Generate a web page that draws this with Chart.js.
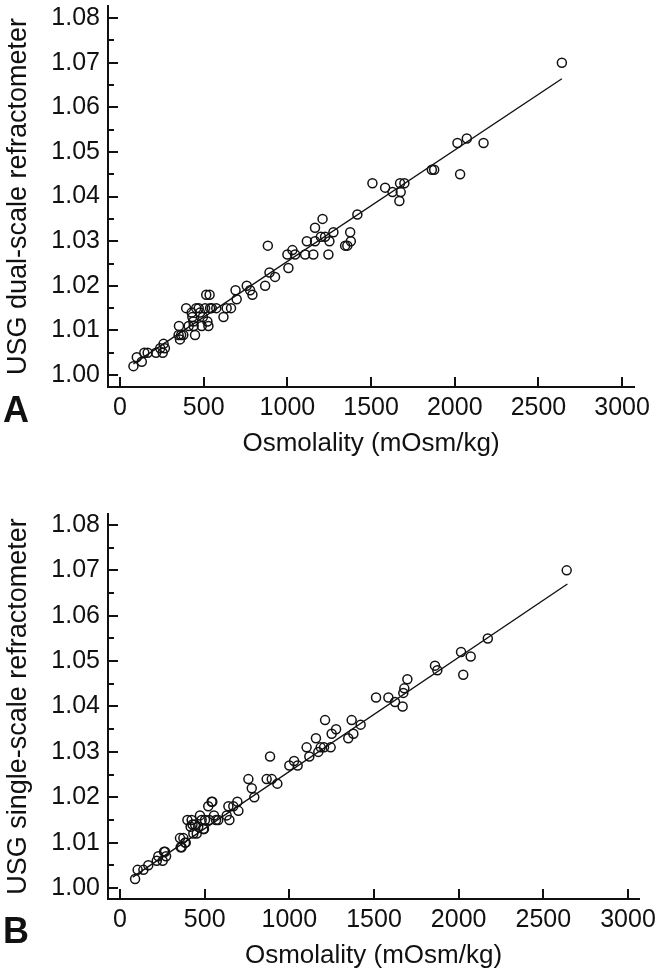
<!DOCTYPE html>
<html>
<head>
<meta charset="utf-8">
<script src="https://cdn.jsdelivr.net/npm/chart.js@4"></script>
<style>
  body { margin: 0; background: #fff; }
  #wrap { position: relative; width: 661px; height: 975px; }
  canvas { display: block; }
  .panel-letter {
    position: absolute; left: 3px;
    font: bold 36px "Liberation Sans", Arial, sans-serif;
    line-height: 36px; color: #111;
  }
</style>
</head>
<body>
<div id="wrap">
  <canvas id="chartA" width="661" height="480"></canvas>
  <canvas id="chartB" width="661" height="495"></canvas>
  <div class="panel-letter" style="top:392px">A</div>
  <div class="panel-letter" style="top:913px">B</div>
</div>
<script>
// Panel A: dual-scale refractometer vs osmolality
const osmA = [80, 100, 130, 145, 165, 215, 240, 255, 260, 268,
  350, 352, 358, 365, 378, 395, 410, 428, 432, 438, 440, 448, 455, 470, 478, 488, 495,
  508, 515, 522, 528, 535, 538, 548, 575, 618, 637, 663, 690, 697, 757, 777, 791,
  867, 883, 893, 926, 1000, 1006, 1030, 1046, 1106, 1116, 1155, 1165, 1165, 1200, 1210,
  1225, 1245, 1251, 1275, 1345, 1358, 1375, 1379, 1418, 1508, 1584, 1628, 1669, 1673,
  1677, 1699, 1863, 1877, 2016, 2032, 2072, 2172, 2640];
const usgA = [1.002, 1.004, 1.003, 1.005, 1.005, 1.005, 1.006, 1.005, 1.007, 1.006,
  1.009, 1.011, 1.008, 1.009, 1.009, 1.015, 1.011, 1.014, 1.013, 1.012, 1.011, 1.009, 1.015, 1.015, 1.014, 1.011, 1.013,
  1.015, 1.018, 1.012, 1.011, 1.018, 1.015, 1.015, 1.015, 1.013, 1.015, 1.015, 1.019, 1.017, 1.020, 1.019, 1.018,
  1.020, 1.029, 1.023, 1.022, 1.027, 1.024, 1.028, 1.027, 1.027, 1.030, 1.027, 1.030, 1.033, 1.031, 1.035,
  1.031, 1.027, 1.030, 1.032, 1.029, 1.029, 1.032, 1.030, 1.036, 1.043, 1.042, 1.041, 1.039, 1.043,
  1.041, 1.043, 1.046, 1.046, 1.052, 1.045, 1.053, 1.052, 1.070];
const fitOsmA = [80, 2640];
const fitUsgA = [1.0025, 1.0664];

// Panel B: single-scale refractometer vs osmolality
const osmB = [89, 104, 138, 167, 217, 226, 252, 260, 266, 272,
  354, 358, 364, 374, 384, 388, 398, 417, 423, 428, 433, 443, 453, 462, 472, 482, 492, 496,
  502, 521, 527, 541, 545, 555, 567, 580, 630, 640, 646, 669, 693, 699, 758, 778, 793,
  866, 886, 896, 929, 1000, 1028, 1049, 1102, 1118, 1157, 1171, 1185, 1205, 1211, 1244,
  1250, 1276, 1348, 1368, 1378, 1421, 1512, 1585, 1624, 1669, 1673, 1679, 1697,
  1860, 1874, 2014, 2027, 2071, 2172, 2638];
const usgB = [1.002, 1.004, 1.004, 1.005, 1.006, 1.007, 1.006, 1.008, 1.008, 1.007,
  1.011, 1.009, 1.009, 1.011, 1.010, 1.010, 1.015, 1.0135, 1.015, 1.014, 1.012, 1.014, 1.012, 1.0135, 1.016, 1.015, 1.013, 1.013,
  1.015, 1.018, 1.015, 1.019, 1.019, 1.016, 1.015, 1.015, 1.016, 1.018, 1.015, 1.018, 1.019, 1.017, 1.024, 1.022, 1.020,
  1.024, 1.029, 1.024, 1.023, 1.027, 1.028, 1.027, 1.031, 1.029, 1.033, 1.030, 1.031, 1.031, 1.037, 1.031,
  1.034, 1.035, 1.033, 1.037, 1.034, 1.036, 1.042, 1.042, 1.041, 1.040, 1.043, 1.044, 1.046,
  1.049, 1.048, 1.052, 1.047, 1.051, 1.055, 1.070];
const fitOsmB = [75, 2642];
const fitUsgB = [1.0024, 1.0670];

const xTicks = [0, 500, 1000, 1500, 2000, 2500, 3000];
const yTicks = [1.00, 1.01, 1.02, 1.03, 1.04, 1.05, 1.06, 1.07, 1.08];
const yMinorTicks = [1.005, 1.015, 1.025, 1.035, 1.045, 1.055, 1.065, 1.075];

const FONT = '"Liberation Sans", Arial, sans-serif';
const INK = '#111';

// inward tick marks (major + minor), drawn off the library's scales
const tickMarks = {
    id: 'tickMarks',
    afterDraw(chart) {
        const { ctx, chartArea, scales: { x, y } } = chart;
        ctx.save();
        ctx.strokeStyle = INK;
        ctx.lineWidth = 2;
        ctx.beginPath();
        yTicks.forEach(v => {
            const py = Math.round(y.getPixelForValue(v));
            ctx.moveTo(chartArea.left, py);
            ctx.lineTo(chartArea.left + 10, py);
        });
        yMinorTicks.forEach(v => {
            const py = Math.round(y.getPixelForValue(v));
            ctx.moveTo(chartArea.left, py);
            ctx.lineTo(chartArea.left + 6, py);
        });
        xTicks.forEach(v => {
            const px = Math.round(x.getPixelForValue(v));
            ctx.moveTo(px, chartArea.bottom);
            ctx.lineTo(px, chartArea.bottom - 10);
        });
        ctx.stroke();
        ctx.restore();
    }
};

function toPoints(xs, ys) {
    return xs.map((v, i) => ({ x: v, y: ys[i] }));
}

function makePanel(id, osm, usg, fitOsm, fitUsg, yTitle, range, pad) {
    new Chart(document.getElementById(id), {
        type: 'scatter',
        data: {
            datasets: [
                {
                    label: 'Samples',
                    data: toPoints(osm, usg),
                    pointRadius: 4.5,
                    pointBorderWidth: 1.5,
                    pointBorderColor: INK,
                    pointBackgroundColor: 'rgba(0,0,0,0)'
                },
                {
                    type: 'line',
                    label: 'Fit',
                    data: toPoints(fitOsm, fitUsg),
                    borderColor: INK,
                    borderWidth: 1.4,
                    pointRadius: 0,
                    fill: false
                }
            ]
        },
        options: {
            responsive: false,
            animation: false,
            layout: { padding: pad },
            plugins: { legend: { display: false }, tooltip: { enabled: false } },
            scales: {
                x: {
                    type: 'linear',
                    min: range.xMin,
                    max: range.xMax,
                    grid: { display: false, drawTicks: false },
                    border: { display: true, color: INK, width: 2 },
                    afterBuildTicks: s => { s.ticks = xTicks.map(v => ({ value: v })); },
                    ticks: {
                        color: INK, padding: 6, maxRotation: 0, font: { family: FONT, size: 25 },
                        callback: v => String(v)
                    },
                    title: {
                        display: true, text: 'Osmolality (mOsm/kg)', color: INK,
                        font: { family: FONT, size: 26, lineHeight: 1 },
                        padding: { top: 0, bottom: 0 }
                    },
                    afterFit: s => { s.height = 70; s.paddingLeft = 0; s.paddingRight = 0; }
                },
                y: {
                    type: 'linear',
                    min: range.yMin,
                    max: range.yMax,
                    grid: { display: false, drawTicks: false },
                    border: { display: true, color: INK, width: 2 },
                    afterBuildTicks: s => { s.ticks = yTicks.map(v => ({ value: v })); },
                    ticks: {
                        color: INK, padding: 8, font: { family: FONT, size: 25 },
                        callback: v => v.toFixed(2)
                    },
                    title: {
                        display: true, text: yTitle, color: INK,
                        font: { family: FONT, size: 27, lineHeight: 1.2 },
                        padding: { top: 2, bottom: 0 }
                    },
                    afterFit: s => { s.width = 108; s.paddingTop = 0; s.paddingBottom = 0; }
                }
            }
        },
        plugins: [tickMarks]
    });
}

makePanel('chartA', osmA, usgA, fitOsmA, fitUsgA, 'USG dual-scale refractometer',
    { xMin: -72, xMax: 3071, yMin: 0.99733, yMax: 1.0827 },
    { left: 0, right: 27, top: 4, bottom: 23 });

makePanel('chartB', osmB, usgB, fitOsmB, fitUsgB, 'USG single-scale refractometer',
    { xMin: -71, xMax: 3065, yMin: 0.99758, yMax: 1.08242 },
    { left: 0, right: 22, top: 34, bottom: 6 });
</script>
</body>
</html>
